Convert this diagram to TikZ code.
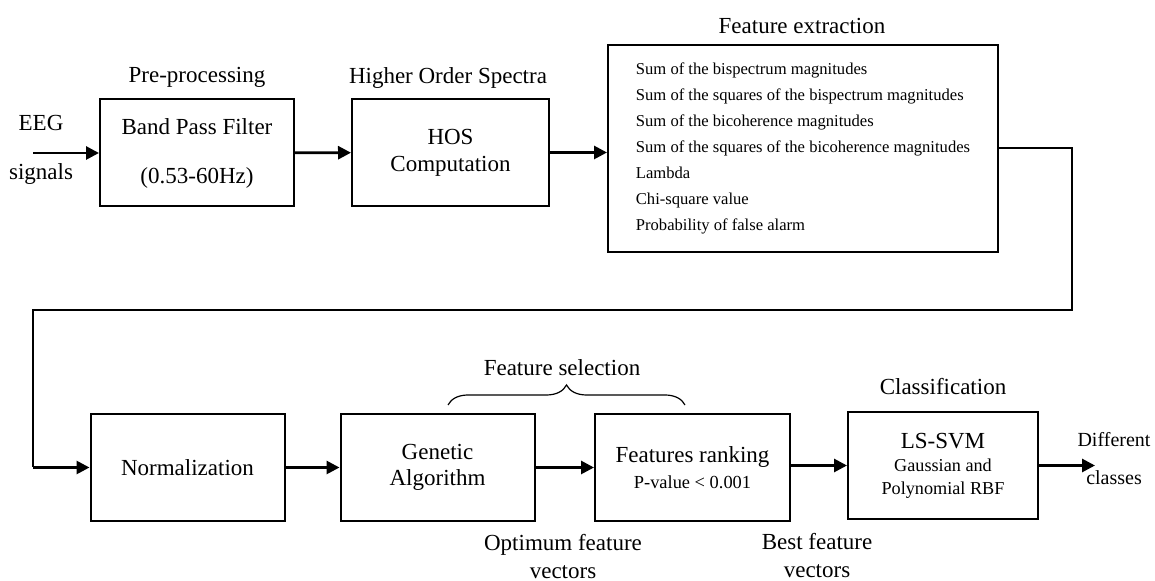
\documentclass[tikz,border=0pt]{standalone}
\usepackage{fontspec}
\setmainfont{Liberation Serif}
\usetikzlibrary{arrows.meta, positioning, decorations.pathreplacing}
\tikzset{>={Triangle[length=6.5pt,width=6.5pt]}}

\begin{document}
\begin{tikzpicture}[x=0.5pt, y=-0.5pt, font=\fontsize{11.5}{14}\selectfont, align=center,
	blk/.style={draw, line width=1pt, minimum width=97pt, minimum height=53.5pt, inner sep=0pt},
	flow/.style={->, line width=1.4pt},
	link/.style={line width=1pt}]
		\useasboundingbox (0,0) rectangle (1155,581);
		% upper row
		\node[blk] (bpf) at (197,153) {Band Pass Filter\\[10.5pt](0.53-60Hz)};
		\node[blk, minimum width=98.5pt] (hos) at (450.5,152.5) {HOS\\[-0.5pt]Computation};
		\node[blk, minimum width=195pt, minimum height=103.5pt, align=left, font=\fontsize{8.3}{13}\selectfont] (fe) at (803,148.5) {Sum of the bispectrum magnitudes\\Sum of the squares of the bispectrum magnitudes\\Sum of the bicoherence magnitudes\\Sum of the squares of the bicoherence magnitudes\\Lambda\\Chi-square value\\Probability of false alarm};
		\node (pre) at (197,77) {Pre-processing};
		\node (hosttl) at (448,78) {Higher Order Spectra};
		\node (fettl) at (802,26) {Feature extraction};
		\node (eeg) at (41,150) {EEG\\[10.5pt]signals};
		\coordinate (src) at (33,153);
		\draw[flow] (src) -- (bpf);
		\draw[flow] (bpf) -- (hos);
		\draw[flow] (hos.east) -- (hos.east -| fe.west);
		
		% lower row
		\node[blk] (norm) at (187.5,467.5) {Normalization};
		\node[blk] (ga) at (437.5,467.5) {Genetic\\[-1pt]Algorithm};
		\node[blk, minimum width=97.5pt] (fr) at (692.5,467.5) {Features ranking\\[-1pt]{\fontsize{9.2}{11.5}\selectfont P-value < 0.001}};
		\node[blk, minimum width=95pt] (svm) at (943,465.5) {LS-SVM\\[-2.5pt]{\fontsize{9.1}{11}\selectfont Gaussian and}\\[-2.5pt]{\fontsize{9.1}{11}\selectfont Polynomial RBF}};
		\node (fsttl) at (562,368) {Feature selection};
		\node (clsttl) at (943,387) {Classification};
		\node (optv) at (563,557) {Optimum feature\\vectors};
		\node (bestv) at (817,556) {Best feature\\vectors};
		\node[font=\fontsize{10}{12}\selectfont] (outlbl) at (1114,459) {Different\\[7pt]classes};
		
		\coordinate (turn) at (33,467.5);
		\coordinate (out) at (1095,465.5);
		\draw[link] (fe.east) -| (1072,310) -| (turn);
		\draw[flow] (turn) -- (norm);
		\draw[flow] (norm) -- (ga);
		\draw[flow] (ga) -- (fr);
		\draw[flow] (fr.east |- svm.west) -- (svm.west);
		\draw[flow] (svm) -- (out);
		\draw[line width=0.6pt, decorate, decoration={brace, amplitude=10pt}] (448,405) -- (685,405);
\end{tikzpicture}
\end{document}
